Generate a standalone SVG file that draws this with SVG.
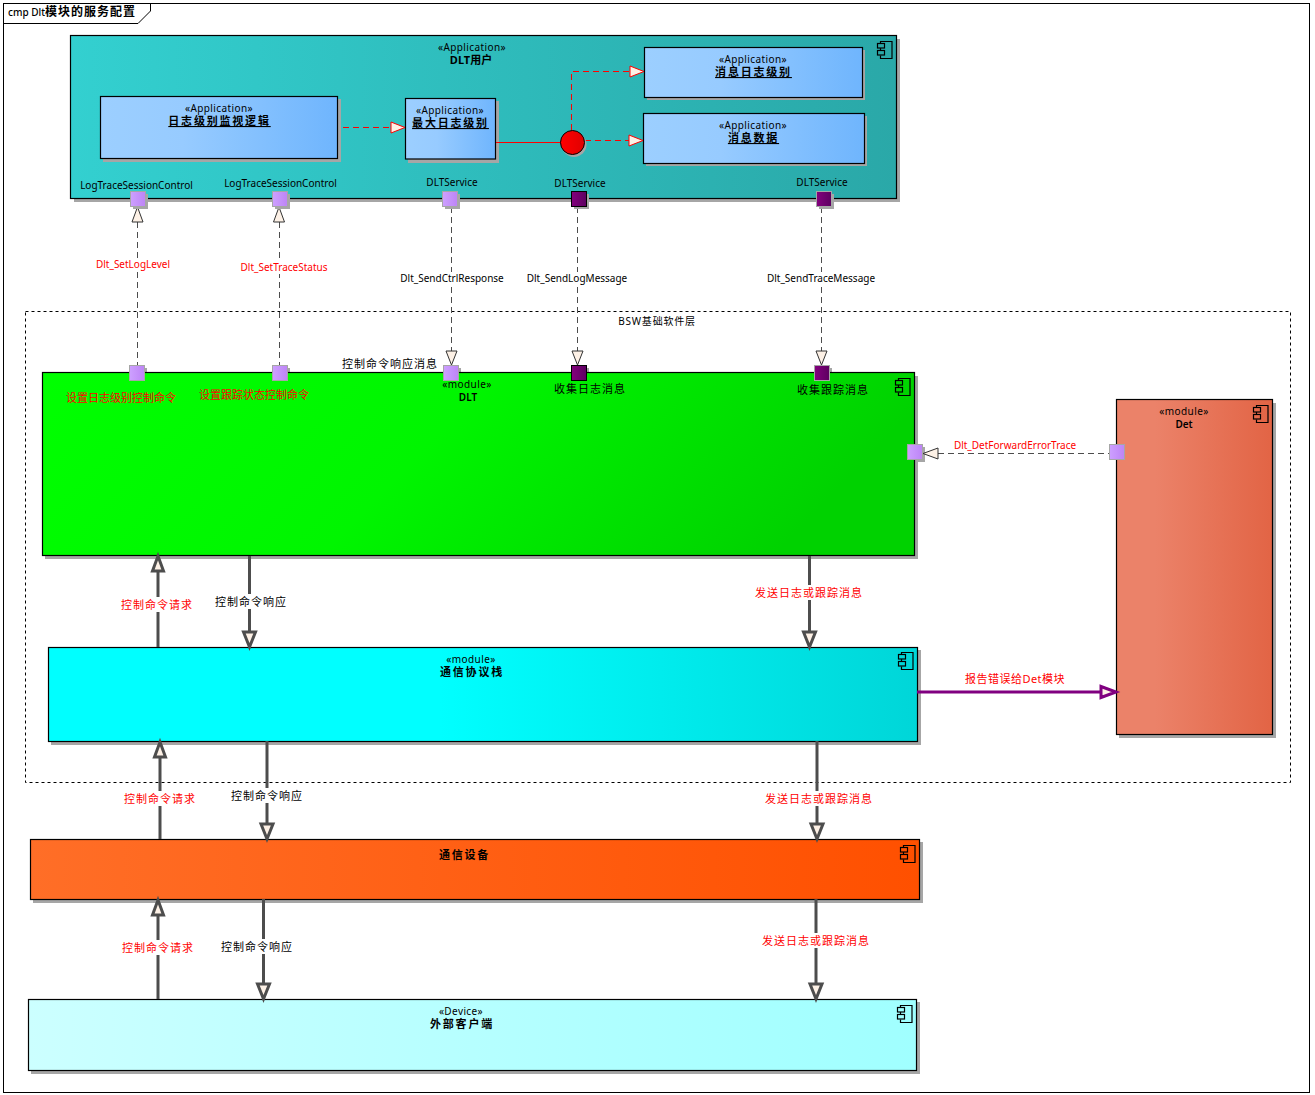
<svg xmlns="http://www.w3.org/2000/svg" width="1315" height="1095" viewBox="0 0 1315 1095">
<style>
text{font-family:"Noto Sans","Noto Sans CJK SC",sans-serif;font-size:10px;fill:#000;text-anchor:middle}
.cn{font-size:11px;letter-spacing:1px}
.n0{letter-spacing:0}
.b{font-weight:bold;font-size:11px;letter-spacing:1.800px}
.u{text-decoration:underline}
.r{fill:#f00}
.s{font-size:10px}
.st{font-size:10px;letter-spacing:.4px}
.m{font-size:10px;font-weight:600}
.box{stroke:#000;stroke-width:1.200}
.shadow{fill:#a6a6a6}
.thick{fill:none;stroke:#4d4d4d;stroke-width:3}
.head{fill:#fdf1e6;stroke:#4d4d4d;stroke-width:3}
.thin{fill:none;stroke:#4d4d4d;stroke-width:1;stroke-dasharray:6 4}
.reddash{fill:none;stroke:#f00;stroke-width:1;stroke-dasharray:6 4}
.lab{fill:#fff}
.pa{stroke:#a6a6a6;stroke-width:1;fill:url(#gp)}
.pd{stroke:#a6a6a6;stroke-width:1;fill:url(#gd)}
.ic{fill:none;stroke:#000;stroke-width:1.200}
</style>
<defs>
<linearGradient id="ga" x1="0" x2="1" y1="0" y2="0"><stop offset="0" stop-color="#33d0d0"/><stop offset="1" stop-color="#2aa8a8"/></linearGradient>
<linearGradient id="gb" x1="0" x2="1" y1="0" y2="0"><stop offset="0" stop-color="#9ccfff"/><stop offset="0.35" stop-color="#97cbff"/><stop offset="1" stop-color="#6fb5fd"/></linearGradient>
<linearGradient id="gg" x1="0" x2="1" y1="0" y2="0.2"><stop offset="0" stop-color="#00ff00"/><stop offset="0.5" stop-color="#00f500"/><stop offset="1" stop-color="#00d200"/></linearGradient>
<linearGradient id="gc" x1="0" x2="1" y1="0" y2="0"><stop offset="0.45" stop-color="#00ffff"/><stop offset="1" stop-color="#00d6d8"/></linearGradient>
<linearGradient id="go" x1="0" x2="1" y1="0" y2="0"><stop offset="0" stop-color="#ff6e27"/><stop offset="1" stop-color="#ff5000"/></linearGradient>
<linearGradient id="gl" x1="0" x2="1" y1="0" y2="0"><stop offset="0" stop-color="#ccffff"/><stop offset="1" stop-color="#a0ffff"/></linearGradient>
<linearGradient id="gr" x1="0" x2="1" y1="0" y2="0"><stop offset="0.25" stop-color="#eb8269"/><stop offset="1" stop-color="#e26445"/></linearGradient>
<linearGradient id="gp" x1="0" x2="1" y1="0" y2="0"><stop offset="0" stop-color="#cda0ff"/><stop offset="1" stop-color="#bd84f6"/></linearGradient>
<linearGradient id="gd" x1="0" x2="1" y1="0" y2="0"><stop offset="0" stop-color="#84007e"/><stop offset="1" stop-color="#5c0060"/></linearGradient>
<linearGradient id="gx" x1="0" x2="1" y1="0" y2="0"><stop offset="0" stop-color="#ff0000"/><stop offset="1" stop-color="#e00000"/></linearGradient>
<symbol id="ic" overflow="visible">
<path class="ic" d="M3.500 2V0.500H15V17.500H3.500V14.500M3.500 9.500V7"/>
<rect class="ic" x="0.500" y="2.500" width="7" height="4.500"/>
<rect class="ic" x="0.500" y="9.500" width="7" height="4.500"/>
</symbol>
</defs>
<rect width="1315" height="1095" fill="#fff"/>
<g id="frame">
<rect x="3.500" y="3.500" width="1306" height="1089" fill="#fff" stroke="#000" stroke-width="1"/>
<path d="M3.500 23.500H138L150.500 11V3.500" fill="none" stroke="#000"/>
<text x="8" y="16" style="text-anchor:start;font-size:10px;font-weight:500">cmp Dlt<tspan class="b" style="font-size:12px;letter-spacing:1px">模块的服务配置</tspan></text>
</g>
<g id="bsw-boundary">
<rect x="25.500" y="311.500" width="1265" height="471" fill="none" stroke="#000" stroke-dasharray="3 3"/>
<text x="657" y="325" class="s" style="letter-spacing:.8px">BSW基础软件层</text>
</g>
<g id="dlt-user">
<rect class="shadow" x="74" y="39" width="826" height="163"/>
<rect class="box" x="70.500" y="35.500" width="826" height="163" fill="url(#ga)"/>
<use href="#ic" x="877" y="41"/>
<text x="472" y="51" class="st">«Application»</text>
<text x="471" y="64" class="b" style="letter-spacing:0">DLT用户</text>
<text x="136.500" y="189" class="s">LogTraceSessionControl</text>
<text x="280.500" y="187" class="s">LogTraceSessionControl</text>
<text x="452" y="186" class="s">DLTService</text>
<text x="580" y="187" class="s">DLTService</text>
<text x="822" y="186" class="s">DLTService</text>
</g>
<g id="log-monitor">
<rect class="shadow" x="103" y="99" width="238" height="63"/>
<rect class="box" x="100.500" y="96.500" width="237" height="62" fill="url(#gb)"/>
<text x="219" y="112" class="st">«Application»</text>
<text x="219.500" y="125" class="b u">日志级别监视逻辑</text>
</g>
<g id="max-level">
<rect class="shadow" x="408" y="101" width="91" height="62"/>
<rect class="box" x="405.500" y="98.500" width="90" height="60.500" fill="url(#gb)"/>
<text x="450" y="114" class="st">«Application»</text>
<text x="450.500" y="127" class="b u">最大日志级别</text>
</g>
<g id="msg-level">
<rect class="shadow" x="647" y="50" width="218" height="50"/>
<rect class="box" x="644.500" y="47.500" width="218" height="50" fill="url(#gb)"/>
<text x="753" y="63" class="st">«Application»</text>
<text x="753.500" y="76" class="b u">消息日志级别</text>
</g>
<g id="msg-data">
<rect class="shadow" x="646" y="116" width="221" height="50"/>
<rect class="box" x="643.500" y="113.500" width="221" height="50" fill="url(#gb)"/>
<text x="753" y="129" class="st">«Application»</text>
<text x="753.500" y="142" class="b u">消息数据</text>
</g>
<g id="dlt-port-shadows">
<rect class="shadow" x="132" y="368" width="15" height="15"/>
<rect class="shadow" x="275" y="368" width="15" height="15"/>
<rect class="shadow" x="446" y="368" width="15" height="15"/>
<rect class="shadow" x="574" y="368" width="15" height="15"/>
<rect class="shadow" x="817" y="368" width="15" height="15"/>
<rect class="shadow" x="910" y="447" width="15" height="15"/>
</g>
<g id="dlt">
<rect class="shadow" x="45" y="376" width="873" height="183"/>
<rect class="box" x="42.500" y="372.500" width="872" height="183" fill="url(#gg)"/>
<use href="#ic" x="895" y="378"/>
<text x="467" y="388" class="st">«module»</text>
<text x="468" y="401" class="m">DLT</text>
<text x="121" y="402" class="cn r n0">设置日志级别控制命令</text>
<text x="254" y="399" class="cn r n0">设置跟踪状态控制命令</text>
<text x="590" y="393" class="cn">收集日志消息</text>
<text x="833" y="394" class="cn">收集跟踪消息</text>
</g>
<g id="protocol-stack">
<rect class="shadow" x="51" y="650" width="870" height="95"/>
<rect class="box" x="48.500" y="647.500" width="869" height="94" fill="url(#gc)"/>
<use href="#ic" x="898" y="652"/>
<text x="471" y="663" class="st">«module»</text>
<text x="472" y="676" class="b">通信协议栈</text>
</g>
<g id="comm-device">
<rect class="shadow" x="33" y="842" width="890" height="61"/>
<rect class="box" x="30.500" y="839.500" width="889" height="60" fill="url(#go)"/>
<use href="#ic" x="900" y="845"/>
<text x="464.500" y="859" class="b">通信设备</text>
</g>
<g id="external-client">
<rect class="shadow" x="31" y="1002" width="889" height="72"/>
<rect class="box" x="28.500" y="999.500" width="888" height="71" fill="url(#gl)"/>
<use href="#ic" x="897" y="1005"/>
<text x="461" y="1015" class="st">«Device»</text>
<text x="462" y="1028" class="b">外部客户端</text>
</g>
<g id="det">
<rect class="shadow" x="1119" y="403" width="157" height="335"/>
<rect class="box" x="1116.500" y="399.500" width="156" height="335" fill="url(#gr)"/>
<use href="#ic" x="1253" y="405"/>
<text x="1184" y="415" class="st">«module»</text>
<text x="1184" y="428" class="m">Det</text>
</g>
<g id="connectors">
<path class="reddash" d="M343 127.500H391"/>
<path d="M391 122L405 127.500L391 133Z" fill="#fdf1e6" stroke="#f00"/>
<path d="M496 142.500H562" fill="none" stroke="#f00"/>
<path class="reddash" d="M571.500 130V71.500H630"/>
<path d="M630 66L644 71.500L630 77Z" fill="#fdf1e6" stroke="#f00"/>
<path class="reddash" d="M585 140.500H629"/>
<path d="M629 135L643 140.500L629 146Z" fill="#fdf1e6" stroke="#f00"/>
<path class="thin" d="M137.500 222V365"/>
<path class="thin" d="M279.500 222V365"/>
<path class="thin" d="M451.500 207V351"/>
<path class="thin" d="M577.500 207V351"/>
<path class="thin" d="M821.500 207V351"/>
<path d="M132 222L137.500 207L143 222Z" fill="#fdf1e6" stroke="#333"/>
<path d="M273.500 222L279 207L284.500 222Z" fill="#fdf1e6" stroke="#333"/>
<path d="M446 351L451.500 365L457 351Z" fill="#fdf1e6" stroke="#333"/>
<path d="M572 351L577.500 365L583 351Z" fill="#fdf1e6" stroke="#333"/>
<path d="M816 351L821.500 365L827 351Z" fill="#fdf1e6" stroke="#333"/>
<path class="thin" d="M938 453.500H1109"/>
<path d="M938 448L923 453.500L938 459Z" fill="#fdf1e6" stroke="#333"/>
<path class="thick" d="M158 571V647"/>
<path class="head" d="M152.500 571L158 556L163.500 571Z"/>
<path class="thick" d="M249.500 556V632"/>
<path class="head" d="M243.500 632L249.500 647L255.500 632Z"/>
<path class="thick" d="M809.500 556V632"/>
<path class="head" d="M803.500 632L809.500 647L815.500 632Z"/>
<path class="thick" d="M160 757V839"/>
<path class="head" d="M154.500 757L160 742L165.500 757Z"/>
<path class="thick" d="M267 741V824"/>
<path class="head" d="M261 824L267 839L273 824Z"/>
<path class="thick" d="M817 741V824"/>
<path class="head" d="M811 824L817 839L823 824Z"/>
<path class="thick" d="M158 915V999"/>
<path class="head" d="M152.500 915L158 900L163.500 915Z"/>
<path class="thick" d="M263.500 899V984"/>
<path class="head" d="M257.500 984L263.500 999L269.500 984Z"/>
<path class="thick" d="M816 899V984"/>
<path class="head" d="M810 984L816 999L822 984Z"/>
<path d="M917 692H1101" fill="none" stroke="#800080" stroke-width="3"/>
<path d="M1101 686.500L1116 692L1101 697.500Z" fill="#fdf1e6" stroke="#800080" stroke-width="3"/>
<rect class="lab" x="120" y="597" width="75" height="15"/><text x="157" y="609" class="cn r">控制命令请求</text>
<rect class="lab" x="214" y="594" width="75" height="15"/><text x="251" y="606" class="cn">控制命令响应</text>
<rect class="lab" x="754" y="585" width="110" height="15"/><text x="809" y="597" class="cn r">发送日志或跟踪消息</text>
<rect class="lab" x="123" y="791" width="75" height="15"/><text x="160" y="803" class="cn r">控制命令请求</text>
<rect class="lab" x="230" y="788" width="75" height="15"/><text x="267" y="800" class="cn">控制命令响应</text>
<rect class="lab" x="764" y="791" width="110" height="15"/><text x="819" y="803" class="cn r">发送日志或跟踪消息</text>
<rect class="lab" x="121" y="940" width="75" height="15"/><text x="158" y="952" class="cn r">控制命令请求</text>
<rect class="lab" x="220" y="939" width="75" height="15"/><text x="257" y="951" class="cn">控制命令响应</text>
<rect class="lab" x="761" y="933" width="110" height="15"/><text x="816" y="945" class="cn r">发送日志或跟踪消息</text>
<text x="1015" y="683" class="cn r" style="letter-spacing:.5px">报告错误给Det模块</text>
<rect class="lab" x="94" y="258" width="78" height="13"/><text x="133" y="268" class="s r">Dlt_SetLogLevel</text>
<rect class="lab" x="238" y="261" width="92" height="13"/><text x="284" y="271" class="s r">Dlt_SetTraceStatus</text>
<rect class="lab" x="398" y="272" width="107" height="13"/><text x="452" y="282" class="s">Dlt_SendCtrlResponse</text>
<rect class="lab" x="526" y="272" width="102" height="13"/><text x="577" y="282" class="s">Dlt_SendLogMessage</text>
<rect class="lab" x="765" y="272" width="112" height="13"/><text x="821" y="282" class="s">Dlt_SendTraceMessage</text>
<text x="1015" y="449" class="s r">Dlt_DetForwardErrorTrace</text>
<text x="390" y="368" class="cn">控制命令响应消息</text>
</g>
<g id="ports">
<rect class="shadow" x="133" y="194" width="15" height="15"/><rect class="pa" x="130.500" y="191.500" width="15" height="15"/>
<rect class="shadow" x="275" y="194" width="15" height="15"/><rect class="pa" x="272.500" y="191.500" width="15" height="15"/>
<rect class="shadow" x="445" y="194" width="15" height="15"/><rect class="pa" x="442.500" y="191.500" width="15" height="15"/>
<rect class="shadow" x="574" y="194" width="15" height="15"/><rect class="pd" style="stroke:#000" x="571.500" y="191.500" width="15" height="15"/>
<rect class="shadow" x="819" y="194" width="15" height="15"/><rect class="pd" x="816.500" y="191.500" width="15" height="15"/>
<rect class="pa" x="129.500" y="365.500" width="15" height="15"/>
<rect class="pa" x="272.500" y="365.500" width="15" height="15"/>
<rect class="pa" x="443.500" y="365.500" width="15" height="15"/>
<rect class="pd" style="stroke:#000" x="571.500" y="365.500" width="15" height="15"/>
<rect class="pd" x="814.500" y="365.500" width="15" height="15"/>
<rect class="pa" x="907.500" y="444.500" width="15" height="15"/>
<rect class="pa" x="1109.500" y="444.500" width="15" height="15"/>
<circle cx="574" cy="144.500" r="12.500" fill="#a6a6a6"/>
<circle cx="572.500" cy="142.500" r="12" fill="url(#gx)" stroke="#000"/>
</g>
</svg>
